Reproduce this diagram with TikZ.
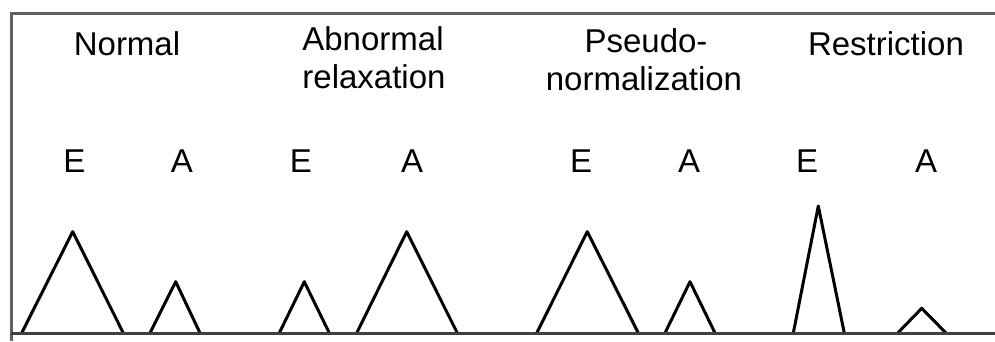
\documentclass[tikz,border=0pt]{standalone}
\usepackage{fontspec}
\setmainfont{Liberation Sans}
\begin{document}
\begin{tikzpicture}[x=1pt,y=-1pt,
  lbl/.style={font=\fontsize{33}{38}\selectfont,inner sep=0pt,anchor=base},
  peak/.style={draw=black,line width=3pt,line join=round},
  frame/.style={draw=black!62,line width=3pt}]
\useasboundingbox (0,0) rectangle (995,341);
\fill[white] (0,0) rectangle (995,341);
% frame
\coordinate (tl) at (11,13);
\coordinate (tr) at (995,13);
\coordinate (bl) at (11,341);
\coordinate (b0) at (11,333);
\coordinate (b1) at (995,333);
\draw[frame] (bl) -- (tl) -- (tr);
% titles
\node[lbl] (t1) at (127,55) {Normal};
\node[lbl] (t2a) at (373,50) {Abnormal};
\node[lbl] (t2b) at (374,88) {relaxation};
\node[lbl] (t3a) at (646,52) {Pseudo-};
\node[lbl] (t3b) at (644,90) {normalization};
\node[lbl] (t4) at (886,55) {Restriction};
% E / A labels
\node[lbl] (e1) at (74.5,172) {E};
\node[lbl] (a1) at (182,172) {A};
\node[lbl] (e2) at (301,172) {E};
\node[lbl] (a2) at (412,172) {A};
\node[lbl] (e3) at (581,172) {E};
\node[lbl] (a3) at (689,172) {A};
\node[lbl] (e4) at (807,172) {E};
\node[lbl] (a4) at (926,172) {A};
% peaks
\draw[peak] (21.7,333) -- (72.7,231.7) -- (123.3,333);
\draw[peak] (150,333) -- (175.7,281.7) -- (200,333);
\draw[peak] (279.3,333) -- (304.3,281.7) -- (329.3,333);
\draw[peak] (356.7,333) -- (406.7,231.7) -- (457.3,333);
\draw[peak] (536.7,333) -- (587.3,231.7) -- (638.3,333);
\draw[peak] (665,333) -- (690,281.7) -- (715,333);
\draw[peak] (793.3,333) -- (818.3,206) -- (844.3,333);
\draw[peak] (897.7,333) -- (921.7,308.3) -- (946,333);
% baseline
\draw[frame,draw=black!75] (b0) -- (b1);
\end{tikzpicture}
\end{document}
